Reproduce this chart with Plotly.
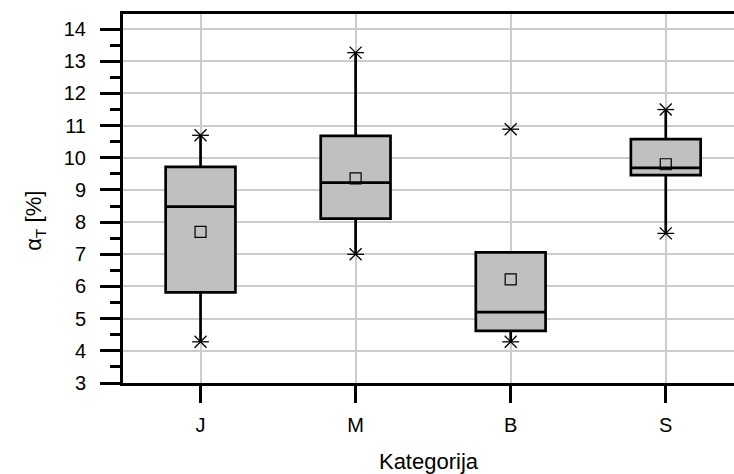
import plotly.graph_objects as go

categories = ["J", "M", "B", "S"]
q1 = [5.82, 8.11, 4.62, 9.46]
median = [8.48, 9.23, 5.20, 9.69]
q3 = [9.72, 10.68, 7.06, 10.58]
lower_whisker = [4.28, 7.00, 4.28, 7.65]
upper_whisker = [10.70, 13.27, 7.06, 11.50]
means = [7.70, 9.36, 6.22, 9.80]
minimums = [4.28, 7.00, 4.28, 7.65]
maximums = [10.70, 13.27, 10.89, 11.50]
y_ticks = list(range(3, 15))

FONT = "Liberation Sans, Arial, sans-serif"

fig = go.Figure()

fig.add_trace(go.Box(
    x=categories, q1=q1, median=median, q3=q3,
    lowerfence=lower_whisker, upperfence=upper_whisker,
    width=0.45, whiskerwidth=0,
    fillcolor="#C0C0C0", line=dict(color="black", width=2.7),
    boxpoints=False, showlegend=False, hoverinfo="skip",
))

# min / max markers (x with horizontal bar)
ext_x = categories + categories
ext_y = minimums + maximums
for sym in ["x-thin-open", "line-ew-open"]:
    fig.add_trace(go.Scatter(
        x=ext_x, y=ext_y, mode="markers",
        marker=dict(symbol=sym, size=12, color="black",
                    line=dict(color="black", width=1.3)),
        showlegend=False, hoverinfo="skip",
    ))

# mean markers
fig.add_trace(go.Scatter(
    x=categories, y=means, mode="markers",
    marker=dict(symbol="square-open", size=11, color="black",
                line=dict(color="black", width=1.2)),
    showlegend=False, hoverinfo="skip",
))

fig.update_layout(
    width=734, height=474,
    margin=dict(l=123, r=0, t=14, b=91),
    paper_bgcolor="white", plot_bgcolor="white",
    font=dict(family=FONT, size=20, color="black"),
    xaxis=dict(
        type="category", range=[-0.5, 3.44],
        showline=True, linecolor="black", linewidth=3, mirror=True,
        ticks="outside", ticklen=17, tickwidth=3, tickcolor="black",
        ticklabelstandoff=5,
        showgrid=True, gridcolor="#CCCCCC", gridwidth=1.5,
        title=dict(text="Kategorija", font=dict(size=22), standoff=19),
        zeroline=False,
    ),
    yaxis=dict(
        range=[3, 14.47], tickvals=y_ticks,
        showline=True, linecolor="black", linewidth=3, mirror=False,
        ticks="outside", ticklen=20, tickwidth=3, tickcolor="black",
        ticklabelstandoff=10,
        minor=dict(dtick=0.5, ticklen=10, tickwidth=3, tickcolor="black",
                   ticks="outside", showgrid=False),
        showgrid=True, gridcolor="#CCCCCC", gridwidth=1.5,
        zeroline=False,
    ),
    annotations=[dict(
        text="α<sub>T</sub> [%]", textangle=-90,
        xref="paper", yref="paper", x=-0.144, y=0.44,
        xanchor="center", yanchor="middle", showarrow=False,
        font=dict(size=22, family=FONT, color="black"),
    )],
)

fig.write_html("out.html", config={"displayModeBar": False},
               post_script="document.body.style.margin='0px';document.body.style.overflow='hidden';")
